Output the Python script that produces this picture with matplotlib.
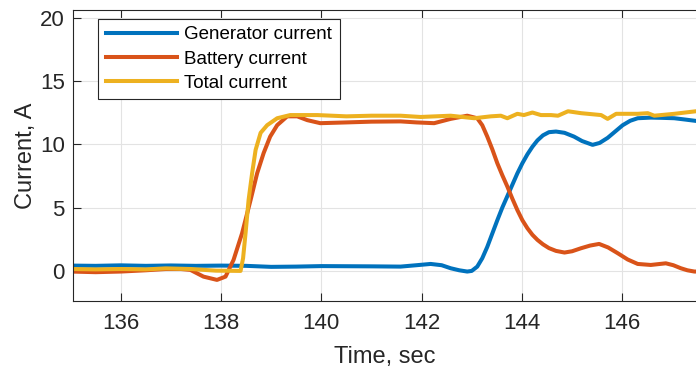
import matplotlib.pyplot as plt

# Generator current
t_gen = [135, 135.5, 136, 136.5, 137, 137.5, 138, 138.5, 139, 139.5, 140, 140.5, 141, 141.58,
         141.9, 142.18, 142.4, 142.58, 142.75, 142.91, 143.0, 143.11, 143.21, 143.31, 143.41,
         143.51, 143.61, 143.71, 143.81, 143.91, 144.01, 144.11, 144.21, 144.31, 144.42, 144.54,
         144.68, 144.85, 145.04, 145.2, 145.41, 145.55, 145.71, 145.86, 146.01, 146.16, 146.31,
         146.57, 146.8, 147.04, 147.25, 147.47]
i_gen = [0.42, 0.4, 0.44, 0.4, 0.43, 0.4, 0.42, 0.4, 0.32, 0.34, 0.38, 0.37, 0.36, 0.34,
         0.45, 0.55, 0.45, 0.21, 0.05, -0.05, 0.0, 0.34, 1.0, 1.9, 2.95,
         4.0, 5.0, 5.9, 6.8, 7.7, 8.5, 9.2, 9.8, 10.3, 10.7, 10.95,
         11.0, 10.9, 10.6, 10.25, 9.95, 10.1, 10.5, 11.0, 11.5, 11.85, 12.05,
         12.1, 12.08, 12.05, 11.95, 11.84]

# Battery current
t_bat = [135, 135.5, 136, 136.5, 136.9, 137.2, 137.39, 137.65, 137.92, 138.09, 138.25, 138.42,
         138.59, 138.72, 138.85, 138.98, 139.12, 139.32, 139.52, 139.72, 139.98, 140.5, 141.0,
         141.58, 141.9, 142.25, 142.58, 142.91, 143.11, 143.21, 143.31, 143.41, 143.51, 143.61,
         143.71, 143.81, 143.91, 144.01, 144.11, 144.21, 144.31, 144.42, 144.54, 144.68, 144.85,
         145.0, 145.18, 145.36, 145.54, 145.72, 145.91, 146.11, 146.31, 146.57, 146.87, 147.02,
         147.17, 147.3, 147.44, 147.5]
i_bat = [-0.05, -0.1, -0.05, 0.05, 0.15, 0.15, 0.08, -0.45, -0.71, -0.45, 0.87, 2.97,
         5.6, 7.7, 9.3, 10.6, 11.5, 12.2, 12.2, 11.9, 11.66, 11.72, 11.78,
         11.8, 11.72, 11.66, 12.0, 12.25, 12.05, 11.5, 10.6, 9.6, 8.5, 7.55,
         6.66, 5.7, 4.8, 4.0, 3.37, 2.85, 2.45, 2.1, 1.8, 1.58, 1.45,
         1.55, 1.79, 2.0, 2.13, 1.85, 1.4, 0.9, 0.55, 0.47, 0.6, 0.45,
         0.21, 0.05, -0.05, -0.05]

# Total current
t_tot = [135, 135.5, 136, 136.5, 136.9, 137.4, 137.9, 138.39, 138.44, 138.49, 138.55, 138.62,
         138.69, 138.79, 138.92, 139.12, 139.38, 139.92, 140.5, 141.0, 141.58, 141.98, 142.58,
         143.05, 143.38, 143.58, 143.71, 143.91, 144.04, 144.21, 144.38, 144.58, 144.72, 144.92,
         145.18, 145.58, 145.71, 145.88, 146.31, 146.51, 146.64, 147.04, 147.47]
i_tot = [0.15, 0.12, 0.15, 0.12, 0.2, 0.15, 0.02, 0.0, 1.0, 3.0, 5.6, 7.7,
         9.55, 10.9, 11.5, 12.05, 12.3, 12.3, 12.2, 12.25, 12.25, 12.15, 12.25,
         12.05, 12.2, 12.25, 12.05, 12.4, 12.3, 12.5, 12.3, 12.3, 12.25, 12.6,
         12.45, 12.3, 12.0, 12.4, 12.4, 12.45, 12.25, 12.4, 12.6]

x_ticks = [136, 138, 140, 142, 144, 146]
y_ticks = [0, 5, 10, 15, 20]

plt.rcParams['font.family'] = ['Liberation Sans', 'DejaVu Sans']

fig = plt.figure(figsize=(6.96, 3.67), dpi=100)
ax = fig.add_axes([0.105, 0.18, 0.897, 0.793])

ax.plot(t_gen, i_gen, color='#0072BD', lw=2.9, label='Generator current')
ax.plot(t_bat, i_bat, color='#D95319', lw=2.9, label='Battery current')
ax.plot(t_tot, i_tot, color='#EDB120', lw=2.9, label='Total current')

ax.set_xlim(135.05, 147.5)
ax.set_ylim(-2.37, 20.6)
ax.set_xticks(x_ticks)
ax.set_yticks(y_ticks)
ax.grid(True, color='#e3e3e3', lw=0.8)
ax.set_axisbelow(True)
ax.tick_params(direction='in', top=True, right=False, length=6, labelsize=16, colors='#262626')
ax.tick_params(axis='x', pad=9)
ax.tick_params(axis='y', pad=6)
for s in ax.spines.values():
    s.set_color('#262626')
    s.set_linewidth(0.8)
ax.spines['right'].set_visible(False)

ax.set_xlabel('Time, sec', fontsize=17, color='#262626', labelpad=8)
ax.set_ylabel('Current, A', fontsize=17, color='#262626', labelpad=2)

leg = ax.legend(loc='upper left', bbox_to_anchor=(0.04, 0.97), fontsize=13.5, handlelength=3.8,
                fancybox=False, framealpha=1, edgecolor='#262626', borderpad=0.4,
                labelspacing=0.38, handletextpad=0.4, borderaxespad=0)
leg.get_frame().set_linewidth(0.8)

fig.savefig('out.png', dpi=100)
